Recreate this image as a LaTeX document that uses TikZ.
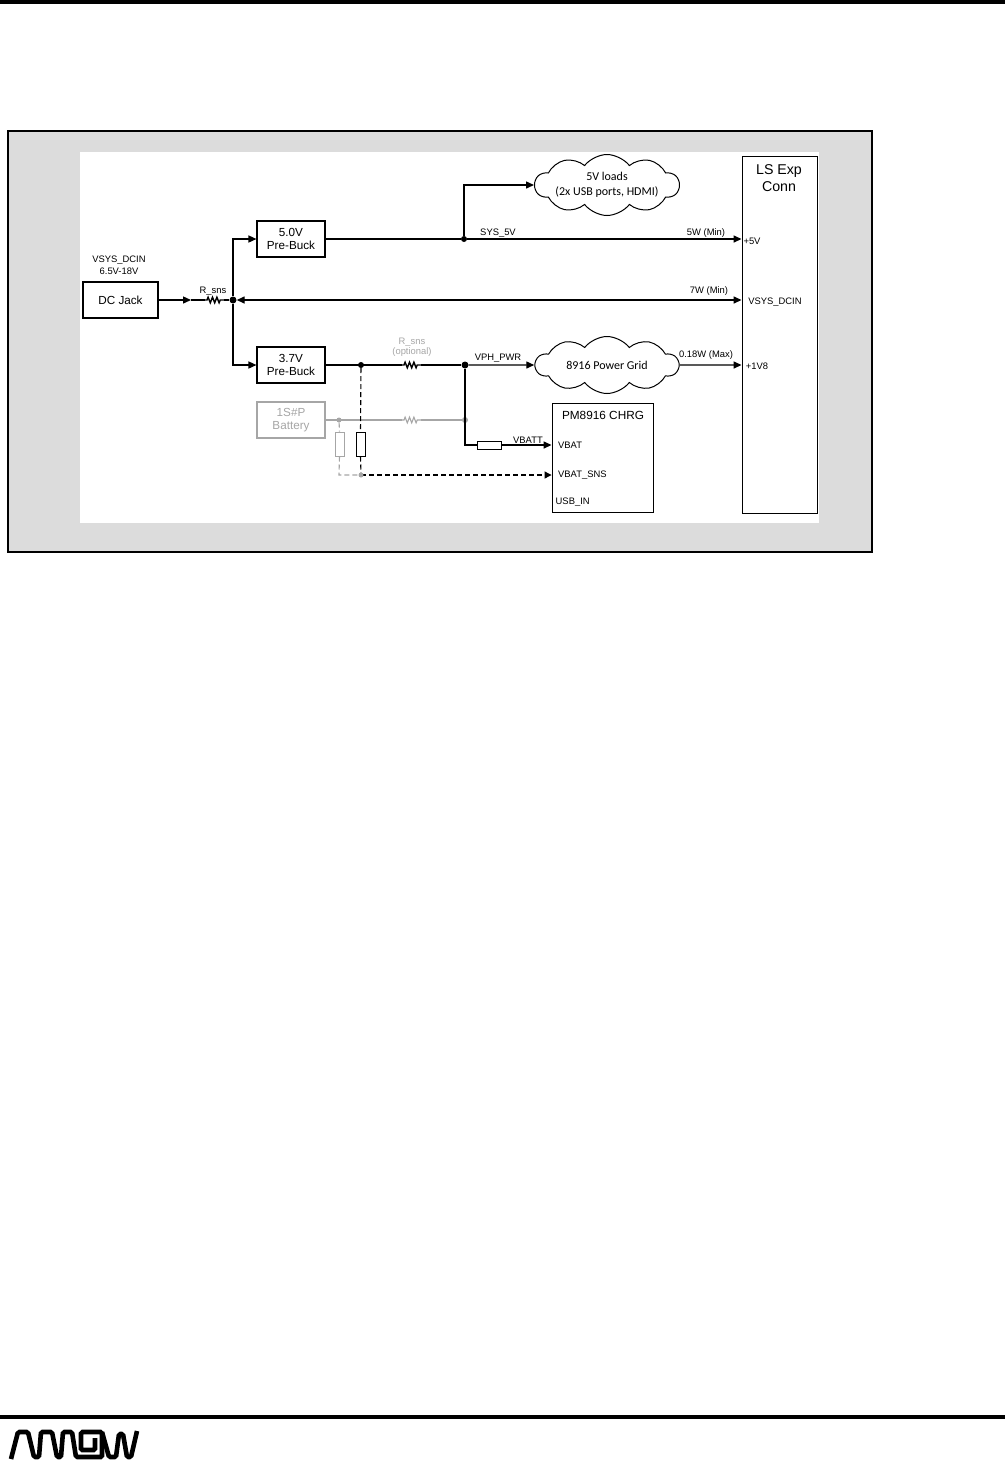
\documentclass[tikz,border=0pt]{standalone}
\usepackage{fontspec}
\setmainfont{Liberation Sans}
\newfontfamily\cloudfont{Carlito}
\usetikzlibrary{arrows.meta,decorations.pathmorphing,shapes.symbols}
\definecolor{framegray}{HTML}{DCDCDC}
\definecolor{optgray}{HTML}{A6A6A6}
\tikzset{
  wire/.style={line width=1.4pt,draw=black},
  feed/.style={wire,-{Triangle[length=8pt,width=7pt]}},
  greywire/.style={line width=1.1pt,draw=optgray},
  blockbox/.style={draw=black,line width=1.1pt,fill=white,align=center,font=\fontsize{11.7}{13.5}\selectfont,inner sep=0pt},
  tag/.style={font=\fontsize{9.4}{11}\selectfont,inner sep=0pt,align=center},
  puff/.style={cloud,cloud puffs=10,cloud puff arc=105,cloud ignores aspect,draw=black,line width=1pt,inner sep=0pt,align=center,font=\cloudfont\fontsize{12}{15}\selectfont},
  zig/.style={decorate,decoration={zigzag,segment length=4.4pt,amplitude=2.8pt,pre length=2pt,post length=2pt}},
  dot/.style={circle,fill=black,inner sep=0pt,minimum size=6pt},
  smallres/.style={draw=black,line width=1pt,fill=white,inner sep=0pt},
  sensedash/.style={dash pattern=on 5pt off 3pt},
}
\begin{document}
\begin{tikzpicture}[x=1pt,y=-1pt]
  \useasboundingbox (0,0) rectangle (1005,1460);
  % page rules
  \fill[black] (0,0) rectangle (1005,4);
  \fill[black] (0,1415) rectangle (1005,1419);

  % frame
  \node[draw=black,line width=1.1pt,fill=framegray,minimum width=864pt,minimum height=421pt,inner sep=0pt] (frame) at (440,341.5) {};
  \node[fill=white,minimum width=739pt,minimum height=371pt,inner sep=0pt] (sheet) at (449.5,337.5) {};

  % blocks
  \node[blockbox,minimum width=75pt,minimum height=36pt] (jack) at (120.5,300) {DC Jack};
  \node[blockbox,minimum width=68pt,minimum height=36pt] (buckA) at (291,239) {5.0V\\Pre-Buck};
  \node[blockbox,minimum width=68pt,minimum height=36pt] (buckB) at (291,365) {3.7V\\Pre-Buck};
  \node[blockbox,draw=optgray,text=optgray,minimum width=68pt,minimum height=36pt] (batt) at (291,420) {1S\#P\\Battery};
  \node[draw=black,line width=.9pt,fill=white,minimum width=75pt,minimum height=357pt,inner sep=0pt] (conn) at (779.5,334.5) {};
  \node[font=\fontsize{14.2}{17}\selectfont,align=center,inner sep=0pt,anchor=north] (connname) at (779,164) {LS Exp\\Conn};
  \node[draw=black,line width=.9pt,fill=white,minimum width=101pt,minimum height=109pt,inner sep=0pt] (chrg) at (602.5,457.5) {};
  \node[font=\fontsize{11.8}{14}\selectfont,inner sep=0pt] (chrgname) at (603,415) {PM8916 CHRG};
  \node[puff,minimum width=143pt,minimum height=61pt] (loads) at (607,185) {5V loads\\(2x USB ports, HDMI)};
  \node[puff,minimum width=143pt,minimum height=57pt] (grid) at (607,365) {8916 Power Grid};

  % junctions
  \coordinate (rinA) at (205,300);
  \coordinate (rinB) at (224,300);
  \coordinate (roptA) at (402,365);
  \coordinate (roptB) at (421,365);
  \coordinate (rbatA) at (402,420);
  \coordinate (rbatB) at (421,420);
  \coordinate (sysbend) at (464,185);
  \coordinate (chgbend) at (465,445);
  \coordinate (sense) at (361,475);
  \coordinate (sensegrey) at (339,475);
  \coordinate (upbend) at (233,239);
  \coordinate (lowbend) at (233,365);
  \coordinate (jackhead) at (191,300);
  \node[dot,minimum size=7pt] (hub) at (233,300) {};
  \node[dot] (sysdot) at (464,239) {};
  \node[dot] (optdot) at (361,365) {};
  \node[dot,minimum size=7pt] (vphdot) at (465,365) {};
  \node[dot,fill=optgray,minimum size=5pt] (battdot) at (339,420) {};
  \node[dot,fill=optgray,minimum size=6pt] (batjoin) at (465,420) {};
  \node[smallres,minimum width=9pt,minimum height=24pt] (rdiv) at (360.5,444) {};
  \node[smallres,draw=optgray,minimum width=9pt,minimum height=24pt] (rdivgrey) at (339.5,444) {};
  \node[smallres,minimum width=24pt,minimum height=8pt] (rchg) at (489,445) {};

  % grey battery path
  \draw[greywire] (batt.east) -- (rbatA);
  \draw[greywire,zig] (rbatA) -- (rbatB);
  \draw[greywire] (rbatB) -- (batjoin);
  \draw[greywire,sensedash] (battdot) -- (rdivgrey.north);
  \draw[greywire,sensedash] (rdivgrey.south) -- (sensegrey) -- (sense);

  % main power paths
  \draw[feed] (jack.east) -- (jackhead);
  \draw[wire] (jackhead) -- (rinA);
  \draw[wire,zig] (rinA) -- (rinB);
  \draw[wire] (rinB) -- (hub);
  \draw[feed] (hub) -- (upbend) -- (buckA.west);
  \draw[feed] (hub) -- (lowbend) -- (buckB.west);
  \draw[feed,{Triangle[length=8pt,width=7pt]}-{Triangle[length=8pt,width=7pt]}] (hub.east) -- (conn.west |- hub);
  \draw[wire] (buckA.east) -- (sysdot);
  \draw[feed] (sysdot) -- (conn.west |- sysdot);
  \draw[feed] (sysdot) -- (sysbend) -- (loads.west |- sysbend);
  \draw[wire] (buckB.east) -- (roptA);
  \draw[wire,zig] (roptA) -- (roptB);
  \draw[wire] (roptB) -- (vphdot);
  \draw[feed] (vphdot) -- (grid.west);
  \draw[feed] (grid.east) -- (conn.west |- grid);
  \draw[wire] (vphdot) -- (chgbend) -- (rchg.west);
  \draw[feed] (rchg.east) -- (chrg.west |- rchg);
  \draw[line width=1.1pt,sensedash] (optdot) -- (rdiv.north);
  \draw[line width=1.1pt,sensedash] (rdiv.south) -- (sense);
  \draw[line width=1.1pt,sensedash,-{Triangle[length=7pt,width=7pt]}] (sense) -- (chrg.west |- sense);
  \node[dot,fill=optgray,minimum size=5pt] (sensedot) at (sense) {};

  % labels
  \node[tag] (dcname) at (119,260) {VSYS\_DCIN};
  \node[tag] (dcrange) at (119,271) {6.5V-18V};
  \node[tag] (rinname) at (213,291.5) {R\_sns};
  \node[tag,text=optgray] (roptname) at (412,342) {R\_sns};
  \node[tag,text=optgray] (roptnote) at (412,352.5) {(optional)};
  \node[tag] (sysname) at (498,233.5) {SYS\_5V};
  \node[tag] (powA) at (706,233) {5W (Min)};
  \node[tag] (powB) at (709,291) {7W (Min)};
  \node[tag] (powC) at (706,355.5) {0.18W (Max)};
  \node[tag] (vphname) at (498,358) {VPH\_PWR};
  \node[tag] (vbatt) at (528,440) {VBATT};
  \node[tag] (pinA) at (752,241.5) {+5V};
  \node[tag] (pinB) at (775,302) {VSYS\_DCIN};
  \node[tag] (pinC) at (757,366) {+1V8};
  \node[tag,anchor=west] (vbat) at (558,445) {VBAT};
  \node[tag,anchor=west] (vbatsns) at (558,475.5) {VBAT\_SNS};
  \node[tag,anchor=west] (usbin) at (555.5,502.5) {USB\_IN};

  % logo
  \draw[line width=4.6pt,rounded corners=1.5pt] (11,1459) -- (18,1432) -- (28,1432) -- (34,1457) -- (39,1457) -- (41,1432) -- (52,1432) -- (57,1457) -- (61,1457) -- (63,1432) -- (72,1432) -- (76,1457) -- (102,1457) -- (102,1432) -- (81,1432) -- (81,1450) -- (95,1450) -- (95,1438);
  \draw[line width=4.6pt,rounded corners=1.5pt] (102,1432) -- (109,1457) -- (116,1457) -- (119,1434) -- (123,1434) -- (127,1457) -- (131,1457) -- (137,1431);
\end{tikzpicture}
\end{document}
